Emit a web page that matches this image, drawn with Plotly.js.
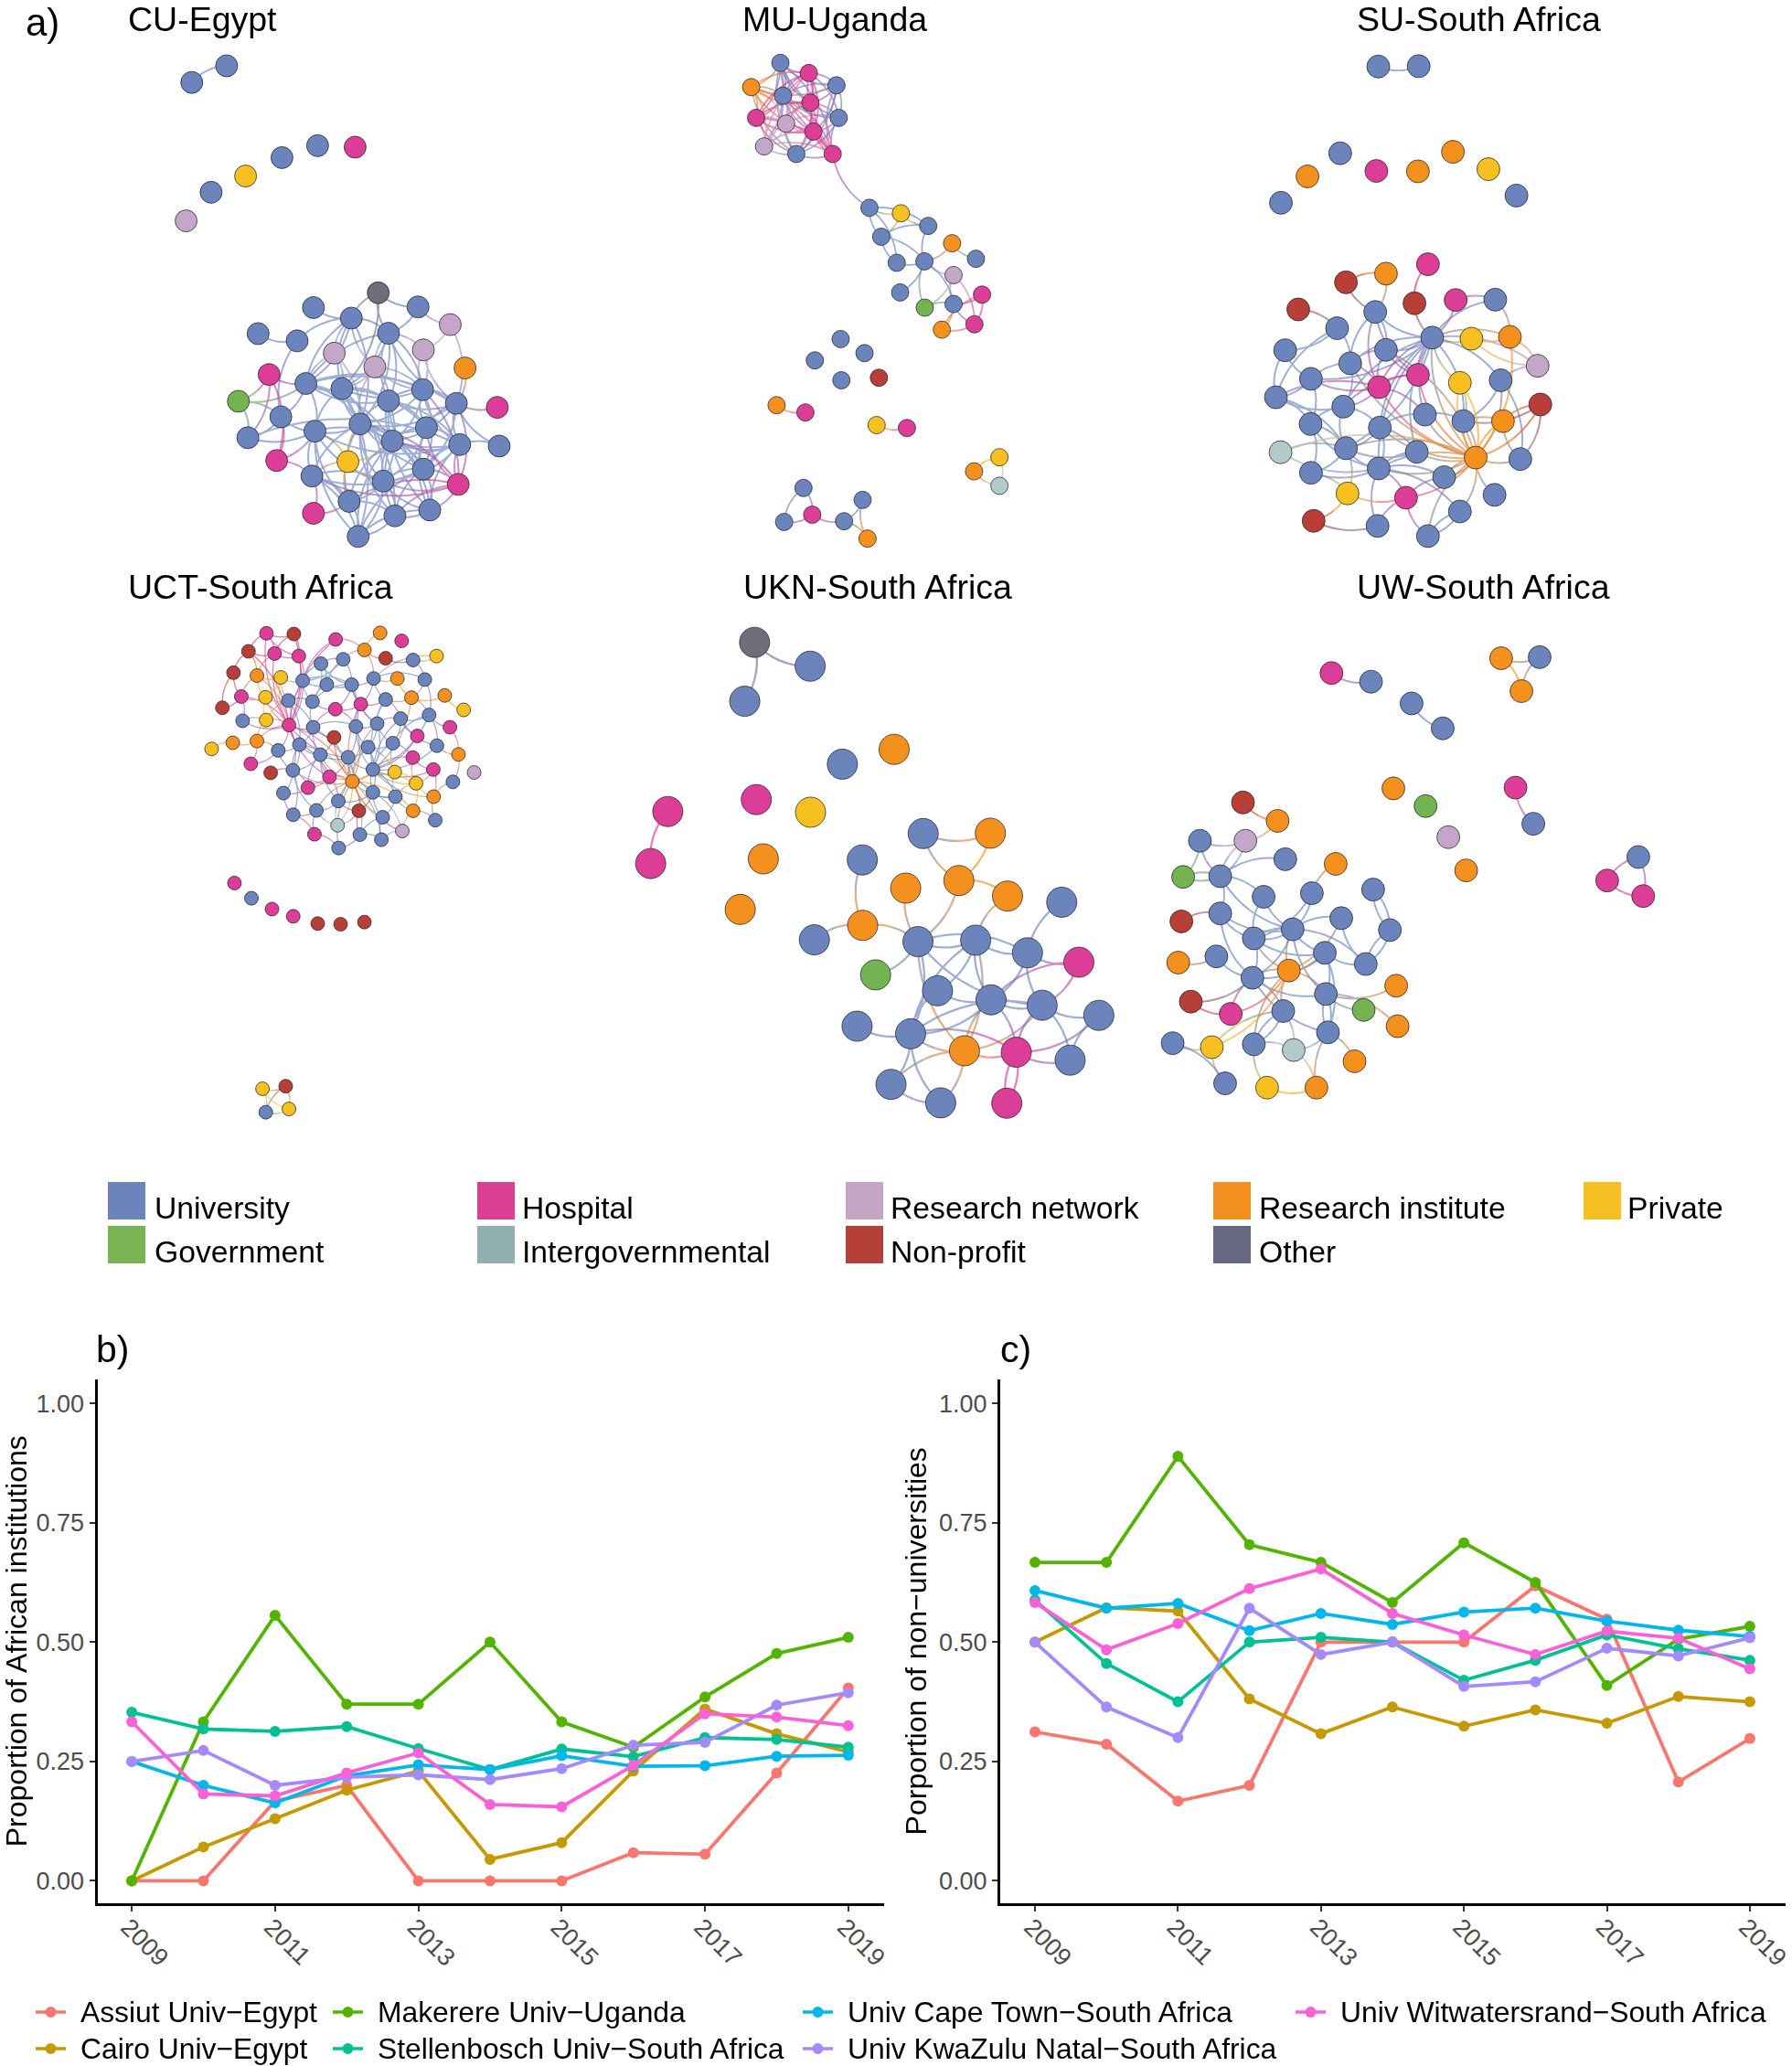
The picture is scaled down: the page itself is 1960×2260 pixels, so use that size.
<!DOCTYPE html>
<html>
<head>
<meta charset="utf-8">
<script src="https://cdn.plot.ly/plotly-3.0.1.min.js"></script>
<style>html,body{margin:0;padding:0;background:#fff}#chart{width:1960px;height:2260px}</style>
</head>
<body>
<div id="chart"></div>
<script>
// ---------- Panel b / c line data ----------
const years = [2009,2010,2011,2012,2013,2014,2015,2016,2017,2018,2019];
const seriesNames = ['Assiut Univ\u2212Egypt','Cairo Univ\u2212Egypt','Makerere Univ\u2212Uganda','Stellenbosch Univ\u2212South Africa','Univ Cape Town\u2212South Africa','Univ KwaZulu Natal\u2212South Africa','Univ Witwatersrand\u2212South Africa'];
const seriesColors = ['#F8766D','#C49A00','#53B400','#00C094','#00B6EB','#A58AFF','#FB61D7'];
const africanAssiut = [0,0,.167,.2,0,0,0,.059,.056,.226,.404];
const africanCairo = [0,.071,.13,.19,.23,.045,.08,.23,.36,.308,.27];
const africanMakerere = [0,.333,.556,.37,.37,.5,.333,.28,.385,.476,.51];
const africanStellenbosch = [.353,.318,.313,.323,.277,.233,.276,.26,.3,.296,.28];
const africanCapeTown = [.25,.2,.163,.22,.243,.233,.262,.24,.241,.261,.263];
const africanKwaZulu = [.25,.273,.2,.217,.222,.212,.235,.284,.29,.368,.394];
const africanWits = [.333,.182,.178,.226,.268,.16,.155,.242,.35,.343,.325];
const nonUnivAssiut = [.312,.286,.167,.2,.5,.5,.5,.618,.548,.207,.298];
const nonUnivCairo = [.5,.572,.565,.381,.308,.364,.324,.358,.33,.386,.375];
const nonUnivMakerere = [.667,.667,.889,.704,.667,.583,.708,.625,.409,.506,.533];
const nonUnivStellenbosch = [.588,.455,.375,.5,.51,.5,.42,.462,.515,.486,.462];
const nonUnivCapeTown = [.608,.571,.581,.524,.56,.537,.563,.571,.544,.525,.512];
const nonUnivKwaZulu = [.5,.364,.3,.571,.474,.5,.407,.417,.487,.471,.509];
const nonUnivWits = [.583,.484,.539,.612,.653,.56,.515,.474,.523,.508,.444];

// ---------- Institution types ----------
const typeLabels = ['University','Hospital','Research network','Research institute','Private','Government','Intergovernmental','Non-profit','Other'];
const typeCodes = ['U','H','N','I','P','G','T','B','O'];
const typeFill = {U:'#6B84BC',H:'#DC3D96',N:'#C4A6C8',I:'#F4901E',P:'#F5C020',G:'#74B352',T:'#B3CACA',B:'#B83E38',O:'#6E6E78'};
const typeSwatch = {U:'#6C84BB',H:'#DA3F94',N:'#C4A5C6',I:'#F3901F',P:'#F5BE23',G:'#78B453',T:'#8FB0AE',B:'#B5403A',O:'#656880'};

// ---------- Networks (node positions) ----------
const cuX = [598,506,937,838,744,648,557,491,998,1103,827,927,1188,1025,681,784,882,1117,989,1227,710,807,902,1115,1025,1204,629,1312,741,950,1125,831,654,1035,1213,1317,730,918,823,1117,1011,1209,921,827,1042,1134,945];
const cuY = [182,228,407,403,436,487,532,611,810,849,851,880,898,922,923,943,977,968,1015,1018,1036,1061,1075,1078,1109,1116,1110,1127,1153,1173,1183,1193,1211,1220,1230,1234,1274,1277,1317,1298,1331,1340,1387,1420,1427,1411,1484];
const cuKind = 'UUHUUPUNOUUUNUUUNNNIHUUUUUGHUUUUUUUUHPUUUHUHUUU'.split('');
const cuLinks = [[0,[1]],[10,[11]],[14,[15]],[15,[28,11]],[8,[11,9,13,22]],[9,[13,12]],[19,[25]],[20,[21,26,32,36]],[26,[21,28,32]],[28,[32,36,31,21]],[32,[31,34]],[27,[25]],[35,[34,25]],[36,[38,31]],[43,[42,38]],
[21,[22,24,29,23,31,13,11,33,25]],[22,[24,29,33,23,40,39,13,30,31,44,46]],[23,[24,29,30,33,34,25,17,39,41,18]],[24,[29,30,33,39,40,25,34,13,45]],[25,[30,34,39,41,33,17,12,29,13]],[29,[33,30,31,38,40,39,42,44,34,41,16]],[30,[33,34,39,41,40,45]],[31,[38,33,40,37,42,46,34]],[33,[39,40,34,41,44,45,46,42,37]],[34,[39,41,40,45]],[37,[40,42,38,29]],[38,[40,42,39,41,46]],[39,[40,41,44,45,46]],[40,[42,44,45,46,41]],[41,[44,45,42]],[42,[44,46]],[44,[46,45]],[45,[46]],[11,[13,22,16,21,18,29]],[13,[18,17,24,29,23]],[16,[21,22]],[17,[23,12]],[18,[22,24,23,29]]];

const muX = [491,566,414,639,498,570,427,645,506,578,448,533,629,726,809,881,757,944,1007,798,871,948,807,1023,948,872,917,1003,650,582,713,652,751,481,557,745,825,1069,1002,1069,552,501,575,659,708,721];
const muY = [174,202,241,236,265,284,326,326,342,364,405,426,426,575,590,625,655,673,716,727,723,761,809,815,841,851,912,897,938,997,977,1052,1045,1121,1141,1176,1184,1265,1304,1344,1350,1444,1424,1442,1383,1490];
const muKind = 'UHIUUHHUNHNUHUPUUIUUUNUHUGIHUUUUBIHPHPITUUHUUI'.split('');
const muLinks = [[0,[1,2,3,4,5,6,7,8,9,10,11,12]],[1,[2,3,4,5,6,7,8,9,10,11,12]],[2,[3,4,5,6,8,9,10,11,12]],[3,[4,5,7,8,9,11,12]],[4,[5,6,7,8,9,10,11,12]],[5,[6,7,8,9,10,11,12]],[6,[8,9,10,11,12]],[7,[8,9,11,12]],[8,[9,10,11,12]],[9,[10,11,12]],[10,[11,12]],[11,[12]],
[12,[13]],[13,[14,16,15,19]],[14,[15,16]],[15,[16,20]],[16,[20,19]],[19,[20]],[20,[17,21,22,25,24]],[17,[18]],[21,[24,25,27]],[24,[25,23,26,27]],[23,[27,26]],[26,[27]],[33,[34]],[35,[36]],[37,[38,39]],[38,[39]],[40,[41,42]],[41,[42]],[42,[43]],[43,[44,45]],[44,[45]]];

const suX = [493,598,240,309,394,488,596,687,779,852,622,513,409,587,694,797,285,485,386,633,735,835,251,513,420,907,596,318,705,811,495,227,402,914,614,714,817,317,497,409,593,239,746,862,494,318,664,413,565,795,705,325,491,622];
const suY = [184,183,561,488,424,473,474,420,468,541,731,757,781,839,830,829,856,863,908,934,937,932,969,968,1005,1012,1037,1048,1059,1052,1071,1099,1125,1119,1147,1165,1165,1173,1183,1240,1250,1251,1266,1270,1296,1308,1320,1365,1377,1369,1415,1441,1455,1483];
const suKind = 'UUUIUHIIPUHIBBHUBUUUPIUUUNHUPUHUUBUUIUUUUTIUUUUPHUUBUU'.split('');
const suLinks = [[0,[1]],[19,[13,14,15,17,20,21,23,24,25,26,27,28,29,30,32,34,35,38,40,42,44,39]],[42,[21,28,28,29,35,35,36,33,43,46,46,44,44,40,38,39,24,30,26,41,48,49,50,53,34,23]],
[10,[13]],[11,[12,17]],[12,[17]],[16,[18]],[18,[24,31,22]],[22,[27,31]],[17,[24,23,30,26]],[23,[24,30,26]],[24,[27,30,32]],[27,[30,31,37]],[30,[26,31,32,34]],[31,[32,39,37]],[32,[37,39,38,26]],[37,[45,39,44]],[39,[38,40,44,45,47]],[38,[40,34,44]],[41,[39,44]],[44,[40,46,48,50]],[45,[47,44]],[47,[48,51]],[52,[48,44]],[51,[52]],[48,[46,53]],[50,[53,53]],[15,[14,21]],[20,[21,25]],[21,[25]],[29,[25,35,43]],[33,[43,35,36]],[36,[35,43]],[35,[28,34]]];

const uctX = [536,620,748,884,950,481,561,635,836,771,703,901,985,1057,435,507,580,647,721,797,864,937,1021,459,533,603,677,747,825,901,980,1082,1140,401,463,535,605,679,743,810,875,947,1034,1098,998,368,433,507,572,637,701,786,847,923,1058,1124,488,549,617,729,799,862,929,984,1047,1172,994,1107,588,663,862,931,1048,756,618,689,819,892,985,1053,754,683,822,952,888,757,438,490,553,618,693,763,836,524,595,534,605];
const uctY = [184,186,201,183,205,234,240,247,230,256,268,253,258,247,293,301,306,315,326,326,309,309,312,359,361,370,373,394,380,367,362,356,396,390,426,424,438,444,472,442,434,420,410,444,468,504,487,482,508,492,520,527,499,488,495,519,545,570,563,581,594,561,568,528,561,569,599,595,626,611,624,636,636,648,686,674,675,693,675,701,715,740,741,731,755,778,875,917,947,967,987,989,983,1444,1437,1509,1500];
const uctKind = 'HBHIHBHHIUUBUPBIPUUUUIUHPUUHHUIIPBUPHUBUUUUHHPIIUUUUUUUIHBUHIUPHHNPUUHUUIUUUBUIUTHUNUUHUHHBBBPBUP'.split('');
const uctLinks = [[36,[0,1,5,6,7,15,16,23,24,25,35,34,47,48,49,2,17,37,50,58,59,51,60]],[60,[51,52,61,59,66,70,71,73,76,77,78,80,82,84,50,37,38,69,75,85,83,40,39,58,49,28]],[61,[52,51,40,39,41,62,63,64,66,71,70,72,53,42,44,54,29,30]],
[0,[1,5,6,7]],[1,[6,7]],[5,[6,15,14]],[6,[7,15]],[14,[23,33]],[23,[33,15,24]],[15,[24,16]],[16,[17]],[7,[17]],[2,[17,8]],[3,[8]],[8,[9,11,20]],[9,[10,17]],[10,[17,19]],[11,[12]],[12,[13,22]],[13,[20]],[17,[18,19,26,25]],[18,[19]],[19,[20,26,39,40,27,28]],[20,[22,21,29,28]],[21,[30]],[22,[30,42]],[30,[31,42]],[31,[32]],[29,[41]],[41,[42,44,53,40]],[42,[43]],[43,[55]],[54,[55]],[55,[67]],[67,[72]],[72,[66,79]],[79,[78]],[78,[83]],[83,[77,70,84]],[81,[85,75,74]],[74,[75,68]],[68,[69]],[69,[58]],[58,[48,49,75,57]],[48,[49,47,56]],[49,[50]],[50,[59,51]],[51,[52]],[52,[53]],[73,[75,70]],[85,[82]],[82,[84,76]],[56,[47]],[46,[47,45]],[26,[25,37]],[37,[39,27,38]],[39,[40]],[40,[28]],
[25,[37,49]],[26,[18,27]],[27,[28,39]],[28,[29,39]],[29,[30,40]],[37,[49,50]],[38,[50,51]],[39,[51,52]],[40,[52,53]],[41,[54]],[42,[54,53]],[49,[58,59]],[50,[58,69,73]],[51,[59,73,70]],[52,[70,62]],[53,[62,63]],[58,[68,74]],[59,[69,73]],[62,[66,71]],[63,[66,64]],[64,[72,66]],[66,[71,78]],[70,[71,77,76]],[71,[77,78]],[73,[76,80]],[75,[80]],[76,[80]],[77,[82,84]],[10,[18,26]],[9,[18,19]],[24,[25,35]],[35,[25,34]],[16,[25,24]],[34,[23]],[47,[35]],
[93,[94,96,95]],[94,[95,96]],[95,[96]]];

const ukX = [432,591,404,683,831,437,592,184,135,457,391,914,1106,740,1016,864,1155,1310,741,603,899,1064,1212,1359,778,955,1108,1254,1416,725,878,1032,1180,1334,822,964,1153];
const ukY = [209,275,372,546,505,644,679,677,821,808,948,738,737,811,868,889,911,928,992,1032,1037,1033,1068,1094,1129,1173,1198,1213,1241,1271,1292,1339,1343,1365,1432,1483,1484];
const ukKind = 'OUUUIHPHHIIUIUIIIUIUUUUHGUUUUUUIHUUUH'.split('');
const ukLinks = [[0,[1,2]],[7,[8]],[11,[12,14]],[12,[14]],[14,[16,20]],[13,[18]],[18,[19,20]],[15,[20]],[16,[21]],[17,[22]],[20,[21,22,24,30,27,31]],[21,[22,25,26,30,31]],[22,[23,27,26]],[23,[26,27]],[25,[26,30]],[26,[27,30,32,31]],[27,[28,30,32,33,31]],[28,[32,33]],[29,[30]],[30,[31,32,34,35]],[31,[32,34,35]],[32,[33,36,36]],[34,[35]]];

const uwX = [513,626,742,831,998,1108,1056,690,782,847,898,1039,1090,1390,1301,1404,260,359,137,267,381,525,89,195,632,319,457,195,84,541,402,680,291,494,75,184,611,391,287,698,111,497,605,225,375,702,59,171,291,503,405,579,209,329,470];
const uwY = [294,318,378,447,253,250,344,613,662,748,840,611,711,803,868,911,652,703,758,758,809,822,858,856,893,913,903,959,981,972,1003,1005,1028,1068,1095,1078,1099,1117,1137,1159,1203,1182,1226,1237,1229,1271,1318,1329,1321,1288,1337,1368,1429,1441,1441];
const uwKind = 'HUUUIUIIGNIHUUHHBIUNUIGUUUUUBUUUUUIUUIUIBUGHUIUPUUTIUPI'.split('');
const uwLinks = [[0,[1]],[2,[3]],[4,[5,6]],[5,[6]],[11,[12]],[13,[14,15]],[14,[15]],[16,[17]],[17,[19]],[18,[19,22,23]],[19,[23,23]],[20,[23]],[21,[26]],[22,[23,23]],[23,[25,27,30]],[25,[30,32]],[26,[30,32]],[27,[28,32,30,38]],[24,[31,31]],[29,[30,36,37]],[30,[32,32,33,36,38,37,41]],[31,[36,36]],[32,[33,38,37]],[33,[36,41,37,49]],[34,[35]],[35,[38]],[37,[38,44,47,48,43,41]],[38,[40,43,44,33,41,49]],[39,[41]],[41,[42,45,49,49]],[40,[43]],[44,[48,48,50,47]],[46,[47,52]],[47,[52]],[48,[50,53]],[50,[54,49]],[49,[54,51]],[53,[54]]];

const panelTitles = ['CU-Egypt','MU-Uganda','SU-South Africa','UCT-South Africa','UKN-South Africa','UW-South Africa'];

// ---------- Layout helpers ----------
const W = 1960, H = 2260;
const xDom = (a,b)=>[a/W,b/W];
const yDom = (a,b)=>[1-b/H,1-a/H];
const hidden = {visible:false,fixedrange:true};
const hexRgb = h=>[1,3,5].map(i=>parseInt(h.slice(i,i+2),16));
const mix = (a,b,t)=>{const A=hexRgb(a),B=hexRgb(b);return 'rgb('+A.map((v,i)=>Math.round(v*(1-t)+B[i]*t)).join(',')+')';};
const netSpec = [
  {X:cuX,Y:cuY,K:cuKind,L:cuLinks,crop:[0,0,650,620],size:24,lw:2},
  {X:muX,Y:muY,K:muKind,L:muLinks,crop:[650,0,650,620],size:19,lw:1.8},
  {X:suX,Y:suY,K:suKind,L:suLinks,crop:[1300,0,660,620],size:25,lw:2},
  {X:uctX,Y:uctY,K:uctKind,L:uctLinks,crop:[100,620,560,620],size:15,lw:1.3},
  {X:ukX,Y:ukY,K:ukKind,L:ukLinks,crop:[660,620,600,620],size:33,lw:2.3},
  {X:uwX,Y:uwY,K:uwKind,L:uwLinks,crop:[1260,620,600,620],size:25,lw:2}
];
const traces = [], layout = {
  width:W,height:H,margin:{l:0,r:0,t:0,b:0},paper_bgcolor:'#fff',plot_bgcolor:'rgba(0,0,0,0)',
  showlegend:false,font:{family:'"Liberation Sans", Arial, sans-serif',color:'#000'},
  annotations:[],shapes:[]
};
netSpec.forEach((p,idx)=>{
  const n = idx+1, xn = n===1?'xaxis':'xaxis'+n, yn = n===1?'yaxis':'yaxis'+n;
  const xr = n===1?'x':'x'+n, yr = n===1?'y':'y'+n;
  layout[xn] = Object.assign({},hidden,{domain:xDom(p.crop[0],p.crop[0]+p.crop[2]),range:[0,1568]});
  layout[yn] = Object.assign({},hidden,{domain:yDom(p.crop[1],p.crop[1]+p.crop[3]),range:[1568,0]});
  const buckets = {}; const seen = {};
  const add = (c,xs,ys)=>{const b=buckets[c]||(buckets[c]={x:[],y:[]});b.x.push(...xs,null);b.y.push(...ys,null);};
  p.L.forEach(([a,targets])=>targets.forEach(b=>{
    const key=a+'-'+b; seen[key]=(seen[key]||0)+1;
    const dir=((a+b)%2?1:-1)*(seen[key]>1?-1:1);
    const x0=p.X[a],y0=p.Y[a],x1=p.X[b],y1=p.Y[b];
    const cx=(x0+x1)/2-(y1-y0)*0.22*dir, cy=(y0+y1)/2+(x1-x0)*0.22*dir;
    const pt=t=>[(1-t)*(1-t)*x0+2*t*(1-t)*cx+t*t*x1,(1-t)*(1-t)*y0+2*t*(1-t)*cy+t*t*y1];
    const steps=[0,.125,.25,.375,.5,.625,.75,.875,1].map(pt);
    const ca=typeFill[p.K[a]],cb=typeFill[p.K[b]];
    add(mix(ca,cb,.3),steps.slice(0,5).map(s=>s[0]),steps.slice(0,5).map(s=>s[1]));
    add(mix(ca,cb,.7),steps.slice(4).map(s=>s[0]),steps.slice(4).map(s=>s[1]));
  }));
  Object.keys(buckets).forEach(c=>traces.push({type:'scatter',mode:'lines',x:buckets[c].x,y:buckets[c].y,xaxis:xr,yaxis:yr,hoverinfo:'skip',cliponaxis:false,opacity:.65,line:{color:c,width:p.lw,shape:'spline',smoothing:.6}}));
  traces.push({type:'scatter',mode:'markers',x:p.X,y:p.Y,xaxis:xr,yaxis:yr,cliponaxis:false,text:p.K.map(k=>typeLabels[typeCodes.indexOf(k)]),hoverinfo:'text',marker:{size:p.size,color:p.K.map(k=>typeFill[k]),line:{color:'rgba(35,35,45,.75)',width:1}}});
});

// Line panels
const axisStyle = {showgrid:false,zeroline:false,showline:true,linecolor:'#000',linewidth:3,ticks:'outside',ticklen:6,tickwidth:2,tickcolor:'#333',fixedrange:true,tickfont:{size:27,color:'#4D4D4D'}};
const linePanels = [
  {ax:7,x:[106.5,967],xr:[2008.52,2019.5],series:[africanAssiut,africanCairo,africanMakerere,africanStellenbosch,africanCapeTown,africanKwaZulu,africanWits],title:'Proportion of African institutions',standoff:16},
  {ax:8,x:[1094,1953],xr:[2008.514,2019.5],series:[nonUnivAssiut,nonUnivCairo,nonUnivMakerere,nonUnivStellenbosch,nonUnivCapeTown,nonUnivKwaZulu,nonUnivWits],title:'Porportion of non\u2212universities',standoff:4}
];
linePanels.forEach(p=>{
  layout['xaxis'+p.ax]=Object.assign({},axisStyle,{domain:xDom(p.x[0],p.x[1]),range:p.xr,tickmode:'array',tickvals:[2009,2011,2013,2015,2017,2019],ticktext:['2009','2011','2013','2015','2017','2019'],tickangle:45,ticklabeloverflow:'allow',ticklabelstandoff:-9,ticklabelshift:-4,anchor:'y'+p.ax});
  layout['yaxis'+p.ax]=Object.assign({},axisStyle,{domain:yDom(1509,2081.5),range:[-.046,1.05],tickmode:'array',tickvals:[0,.25,.5,.75,1],tickformat:'.2f',anchor:'x'+p.ax,title:{text:p.title,font:{size:32,color:'#000'},standoff:p.standoff}});
  p.series.forEach((v,i)=>traces.push({type:'scatter',mode:'lines+markers',name:seriesNames[i],x:years,y:v,xaxis:'x'+p.ax,yaxis:'y'+p.ax,cliponaxis:false,line:{color:seriesColors[i],width:3.8},marker:{color:seriesColors[i],size:12}}));
});

// Full-page overlay axes for captions and keys
layout.xaxis9=Object.assign({},hidden,{domain:[0,1],range:[0,W]});
layout.yaxis9=Object.assign({},hidden,{domain:[0,1],range:[H,0]});
const note=(text,x,y,size,color)=>layout.annotations.push({text,x,y,xref:'x9',yref:'y9',xanchor:'left',yanchor:'middle',showarrow:false,font:{size,color:color||'#000'}});
note('a)',26,24,42); note('b)',103,1476,41); note('c)',1092,1476,41);
[[138,21],[810,21],[1482,21],[138,642],[811,642],[1482,642]].forEach((q,i)=>note(panelTitles[i],q[0],q[1],37.5));

// Institution-type key
const swatchSlots = [[118,1293,'U',167,1321],[522,1293,'H',569,1321],[925,1293,'N',972,1321],[1327,1293,'I',1375,1321],[1732,1293,'P',1778,1321],[118,1341,'G',167,1369],[522,1341,'T',569,1369],[925,1341,'B',972,1369],[1327,1341,'O',1375,1369]];
swatchSlots.forEach(s=>{
  layout.shapes.push({type:'rect',xref:'x9',yref:'y9',x0:s[0],x1:s[0]+41,y0:s[1],y1:s[1]+41,fillcolor:typeSwatch[s[2]],line:{width:0}});
  note(typeLabels[typeCodes.indexOf(s[2])],s[3],s[4],33.7);
});

// Series key
const keySlots = [[39,2201],[39,2241],[364,2201],[364,2241],[878,2201],[878,2241],[1417,2201]];
keySlots.forEach((s,i)=>{
  const c=seriesColors[i],mx=s[0]+16.5;
  layout.shapes.push({type:'line',xref:'x9',yref:'y9',x0:s[0],x1:s[0]+33,y0:s[1],y1:s[1],line:{color:c,width:3.5}});
  layout.shapes.push({type:'circle',xref:'x9',yref:'y9',x0:mx-6,x1:mx+6,y0:s[1]-6,y1:s[1]+6,fillcolor:c,line:{width:0}});
  note(seriesNames[i],s[0]+47,s[1],31.8);
});
// overlay axes need a trace to exist
traces.push({type:'scatter',mode:'markers',x:[0],y:[0],xaxis:'x9',yaxis:'y9',hoverinfo:'skip',marker:{opacity:0,size:1}});

Plotly.newPlot('chart',traces,layout,{displayModeBar:false,responsive:false});
</script>
</body>
</html>
